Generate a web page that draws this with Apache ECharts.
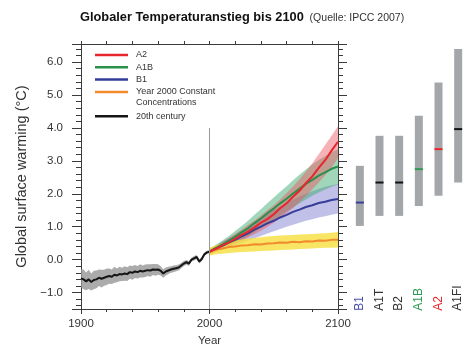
<!DOCTYPE html>
<html><head><meta charset="utf-8">
<script src="https://cdn.jsdelivr.net/npm/echarts@6/dist/echarts.min.js"></script>
<style>html,body{margin:0;padding:0;background:#fff}#c{width:468px;height:352px}</style>
</head><body><div id="c"></div>
<script>
// ---------- data ----------
const histYears = [1900,1902,1904,1906,1908,1910,1912,1914,1916,1918,1920,1922,1924,1926,1928,1930,1932,1934,1936,1938,1940,1942,1944,1946,1948,1950,1952,1954,1956,1958,1960,1962,1964,1966,1968,1970,1972,1974,1976,1978,1980,1982,1984,1986,1988,1990,1992,1994,1996,1998,2000];
const histMean = [-0.57,-0.6,-0.66,-0.6,-0.68,-0.62,-0.6,-0.55,-0.58,-0.55,-0.52,-0.5,-0.52,-0.46,-0.48,-0.44,-0.45,-0.42,-0.44,-0.38,-0.4,-0.36,-0.38,-0.34,-0.36,-0.34,-0.32,-0.33,-0.3,-0.31,-0.3,-0.34,-0.42,-0.36,-0.33,-0.3,-0.28,-0.26,-0.24,-0.18,-0.12,-0.08,-0.12,0.0,0.04,0.08,-0.06,0.02,0.16,0.22,0.24];
const histLow = [-0.85,-0.9,-0.93,-0.89,-0.94,-0.9,-0.87,-0.8,-0.85,-0.79,-0.77,-0.73,-0.74,-0.7,-0.69,-0.66,-0.65,-0.64,-0.65,-0.58,-0.61,-0.56,-0.57,-0.54,-0.54,-0.53,-0.5,-0.52,-0.47,-0.49,-0.46,-0.48,-0.55,-0.48,-0.44,-0.4,-0.38,-0.35,-0.33,-0.26,-0.2,-0.15,-0.19,-0.06,-0.03,0.02,-0.12,-0.04,0.11,0.17,0.19];
const histHigh = [-0.29,-0.3,-0.39,-0.31,-0.42,-0.34,-0.33,-0.3,-0.31,-0.31,-0.27,-0.27,-0.3,-0.22,-0.27,-0.22,-0.25,-0.2,-0.23,-0.18,-0.19,-0.16,-0.19,-0.14,-0.18,-0.15,-0.14,-0.14,-0.13,-0.13,-0.14,-0.2,-0.29,-0.24,-0.22,-0.2,-0.18,-0.17,-0.15,-0.1,-0.04,-0.01,-0.05,0.06,0.11,0.14,0.0,0.08,0.21,0.27,0.29];

const projYears = [2000,2005,2010,2015,2020,2025,2030,2035,2040,2045,2050,2055,2060,2065,2070,2075,2080,2085,2090,2095,2100];
const a2Mean = [0.24,0.33,0.43,0.52,0.63,0.75,0.85,0.98,1.12,1.23,1.38,1.56,1.71,1.91,2.09,2.32,2.53,2.79,3.02,3.31,3.58];
const a2Low  = [0.16,0.24,0.31,0.4,0.48,0.57,0.67,0.77,0.88,0.99,1.12,1.27,1.42,1.57,1.75,1.93,2.13,2.34,2.56,2.8,3.08];
const a2High = [0.32,0.42,0.53,0.66,0.78,0.91,1.05,1.19,1.34,1.5,1.65,1.83,2.02,2.22,2.44,2.68,2.93,3.2,3.48,3.76,4.05];
const a1bMean = [0.24,0.36,0.46,0.58,0.69,0.83,0.95,1.11,1.25,1.41,1.55,1.71,1.85,2.01,2.15,2.3,2.42,2.55,2.65,2.76,2.83];
const a1bLow  = [0.16,0.25,0.33,0.42,0.51,0.61,0.71,0.83,0.96,1.08,1.21,1.33,1.46,1.58,1.71,1.83,1.94,2.04,2.13,2.21,2.28];
const a1bHigh = [0.32,0.45,0.58,0.72,0.87,1.02,1.18,1.36,1.53,1.71,1.89,2.06,2.23,2.41,2.58,2.74,2.89,3.03,3.15,3.26,3.35];
const b1Mean = [0.24,0.34,0.42,0.52,0.6,0.71,0.8,0.91,1.0,1.1,1.18,1.28,1.36,1.45,1.52,1.6,1.65,1.72,1.76,1.81,1.84];
const b1Low  = [0.16,0.23,0.3,0.37,0.44,0.51,0.58,0.65,0.72,0.79,0.86,0.93,1.0,1.06,1.12,1.18,1.23,1.28,1.32,1.36,1.4];
const b1High = [0.32,0.43,0.54,0.65,0.76,0.89,1.02,1.15,1.28,1.39,1.5,1.61,1.72,1.82,1.92,2.0,2.08,2.15,2.21,2.26,2.3];
const cmMean = [0.24,0.31,0.34,0.38,0.4,0.43,0.44,0.47,0.46,0.49,0.5,0.52,0.51,0.54,0.53,0.56,0.55,0.58,0.57,0.6,0.6];
const cmLow  = [0.12,0.16,0.18,0.2,0.22,0.23,0.24,0.25,0.26,0.27,0.28,0.29,0.3,0.31,0.32,0.33,0.34,0.35,0.36,0.36,0.37];
const cmHigh = [0.36,0.44,0.5,0.54,0.58,0.61,0.64,0.66,0.68,0.7,0.72,0.73,0.74,0.75,0.76,0.77,0.78,0.79,0.8,0.82,0.84];

const scenNames = ['B1','A1T','B2','A1B','A2','A1FI'];
const scenLow  = [1.1,1.4,1.4,1.7,2.0,2.4];
const scenHigh = [2.9,3.8,3.8,4.4,5.4,6.4];
const scenBest = [1.8,2.4,2.4,2.8,3.4,4.0];

const xTicks = [1900,2000,2100];
const yTicks = [-1,0,1,2,3,4,5,6];
const markYear = 2000, markTop = 4.0;

// ---------- style ----------
const FONT = 'Liberation Sans, Arial, sans-serif';
const TXT = '#333';
const AX = '#3a3a3a';
const scenColors = ['#3b3f9c','#111111','#111111','#2a9a50','#e6262c','#111111'];
const scenLabelColors = ['#4a4fa8','#333333','#333333','#2a9a50','#e6262c','#333333'];

const chart = echarts.init(document.getElementById('c'), null, {renderer:'canvas'});

function pairs(xs, ys){ return xs.map((x,i)=>[x, ys[i]]); }
function band(years, lo, hi, fill){
  return {
    type:'custom', xAxisIndex:0, yAxisIndex:0, silent:true, clip:true,
    data:[[years[0], lo[0]]],
    renderItem(params, api){
      const pts = [];
      for (let i=0;i<years.length;i++) pts.push(api.coord([years[i], hi[i]]));
      for (let i=years.length-1;i>=0;i--) pts.push(api.coord([years[i], lo[i]]));
      return {type:'polygon', shape:{points:pts}, style:{fill:fill, stroke:null}};
    }
  };
}
function line(name, xs, ys, color, w){
  return {type:'line', name, xAxisIndex:0, yAxisIndex:0, data:pairs(xs, ys), showSymbol:false, symbol:'none',
    lineStyle:{color, width:w}, itemStyle:{color}, silent:true};
}
const yFmt = v => {
  if (Math.abs(v - Math.round(v)) > 1e-6) return '';
  return v < 0 ? '\u2212' + Math.abs(v).toFixed(1) : v.toFixed(1);
};

const baseX = {
  type:'value', gridIndex:0, min:xTicks[0], max:xTicks[xTicks.length-1], interval:100,
  splitLine:{show:false},
  axisLine:{onZero:false, lineStyle:{color:AX, width:1}},
  axisTick:{length:5, lineStyle:{color:AX, width:1}},
  minorTick:{show:true, splitNumber:5, length:3, lineStyle:{color:AX, width:1}},
};
const baseY = {
  type:'value', gridIndex:0, min:-1.5, max:6.55, minInterval:1, maxInterval:1,
  splitLine:{show:false},
  axisLine:{show:true, onZero:false, lineStyle:{color:AX, width:1}},
  axisTick:{length:9, lineStyle:{color:AX, width:1}},
  minorTick:{show:true, splitNumber:5, length:5, lineStyle:{color:AX, width:1}},
};
const legendText = {fontSize:9, color:TXT, lineHeight:12, fontFamily:FONT, padding:[0,0,0,3]};

const option = {
  animation:false,
  backgroundColor:'#fff',
  textStyle:{fontFamily:FONT},
  title:{
    left:80, top:8, padding:0,
    text:'{a|Globaler Temperaturanstieg bis 2100}{b|  (Quelle: IPCC 2007)}',
    textStyle:{rich:{
      a:{fontSize:12.8, fontWeight:'bold', color:'#111', fontFamily:FONT, lineHeight:16, verticalAlign:'bottom'},
      b:{fontSize:10.5, fontWeight:'normal', color:'#333', fontFamily:FONT, lineHeight:15, verticalAlign:'bottom'}
    }}
  },
  grid:[
    {left:81, right:130, top:44, bottom:39.3},
    {left:350, width:124, top:44, bottom:39.3}
  ],
  legend:[
    {data:['A2','A1B','B1','Year 2000 Constant'], orient:'vertical', left:95, top:49, padding:0,
     itemWidth:33, itemHeight:2.5, itemGap:0.3, icon:'rect', selectedMode:false, textStyle:legendText},
    {data:['20th century'], orient:'vertical', left:95, top:110.3, padding:0,
     itemWidth:33, itemHeight:2.5, itemGap:0.3, icon:'rect', selectedMode:false, textStyle:legendText}
  ],
  graphic:[
    {type:'text', left:136, top:98.5, style:{text:'Concentrations', font:'9px ' + FONT, fill:TXT}}
  ],
  xAxis:[
    Object.assign({}, baseX, {position:'bottom',
      axisLabel:{fontSize:11.5, color:TXT, margin:9, formatter:v=>String(v)},
      name:'Year', nameLocation:'middle', nameGap:26, nameTextStyle:{fontSize:11.5, color:TXT}}),
    Object.assign({}, baseX, {position:'top', axisLabel:{show:false}, axisTick:{length:3, lineStyle:{color:AX}}}),
    {type:'category', gridIndex:1, data:scenNames, axisLine:{show:false}, axisTick:{show:false},
     axisLabel:{inside:true, rotate:90, margin:2, fontSize:12, color:(v,i)=>scenLabelColors[i]}}
  ],
  yAxis:[
    Object.assign({}, baseY, {position:'left',
      axisLabel:{fontSize:11.5, color:TXT, margin:18, formatter:yFmt},
      name:'Global surface warming (\u00B0C)', nameLocation:'middle', nameRotate:90, nameGap:52,
      nameTextStyle:{fontSize:14.5, color:TXT}}),
    Object.assign({}, baseY, {position:'right', axisLabel:{show:false}}),
    {type:'value', gridIndex:1, min:-1.5, max:6.55, show:false}
  ],
  series:[
    band(histYears, histLow, histHigh, 'rgba(150,150,150,0.8)'),
    band(projYears, b1Low, b1High, 'rgba(105,105,200,0.42)'),
    band(projYears, a1bLow, a1bHigh, 'rgba(60,170,110,0.48)'),
    band(projYears, a2Low, a2High, 'rgba(236,85,95,0.45)'),
    band(projYears, cmLow, cmHigh, 'rgba(245,222,60,0.8)'),
    Object.assign(line('20th century', histYears, histMean, '#151515', 2), {
      markLine:{silent:true, symbol:['none','none'], label:{show:false},
        lineStyle:{color:'#999', width:1, type:'solid'},
        data:[[{coord:[markYear, markTop]},{coord:[markYear, -1.5]}]]}
    }),
    line('Year 2000 Constant', projYears, cmMean, '#f28a2e', 2),
    line('B1', projYears, b1Mean, '#353d98', 2),
    line('A1B', projYears, a1bMean, '#2a8f4a', 2),
    line('A2', projYears, a2Mean, '#e6262c', 2),
    {
      type:'custom', xAxisIndex:2, yAxisIndex:2, silent:true,
      data:scenNames.map((n,i)=>[i, scenLow[i], scenHigh[i], scenBest[i]]),
      renderItem(params, api){
        const i = api.value(0);
        const lo = api.coord([i, api.value(1)]);
        const hi = api.coord([i, api.value(2)]);
        const md = api.coord([i, api.value(3)]);
        const w = 8;
        return {type:'group', children:[
          {type:'rect', shape:{x:lo[0]-w/2, y:hi[1], width:w, height:lo[1]-hi[1]}, style:{fill:'#a4a7aa'}},
          {type:'rect', shape:{x:md[0]-w/2, y:md[1]-1, width:w, height:2}, style:{fill:scenColors[params.dataIndex]}}
        ]};
      }
    }
  ]
};
chart.setOption(option);
</script>
</body></html>
